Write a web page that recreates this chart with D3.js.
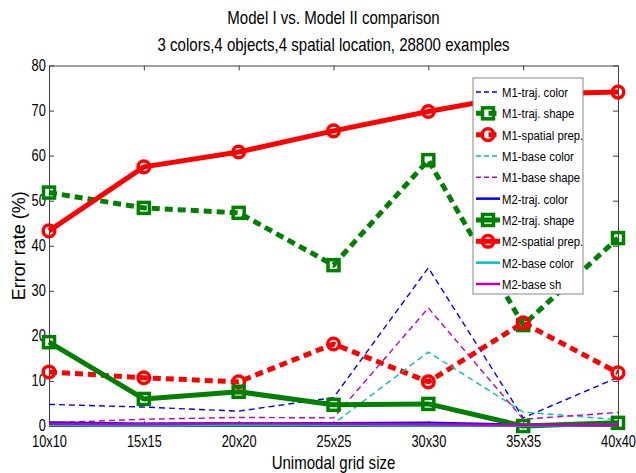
<!DOCTYPE html>
<html>
<head>
<meta charset="utf-8">
<script src="https://cdn.jsdelivr.net/npm/d3@7"></script>
<style>
  html, body { margin: 0; padding: 0; background: #fff; }
  svg { display: block; font-family: "Liberation Sans", Arial, Helvetica, sans-serif; }
</style>
</head>
<body>
<svg id="chart" width="636" height="473"></svg>
<script>
// Grid sizes along the x axis
const categories = ["10x10", "15x15", "20x20", "25x25", "30x30", "35x35", "40x40"];
const yTicks = [0, 10, 20, 30, 40, 50, 60, 70, 80];

// Error rates (%) per model and task
const m1TrajColor   = [4.8, 4.2, 3.3, 6.3, 35.1, 1.8, 10.8];
const m1TrajShape   = [51.8, 48.4, 47.3, 35.7, 59.0, 22.4, 41.7];
const m1SpatialPrep = [12.0, 10.7, 9.8, 18.2, 9.8, 22.9, 11.8];
const m1BaseColor   = [0.4, 0.6, 0.6, 0.5, 16.4, 3.1, 1.4];
const m1BaseShape   = [0.7, 1.5, 1.9, 1.8, 26.2, 1.5, 3.0];
const m2TrajColor   = [0.8, 0.5, 0.6, 0.6, 0.7, 0.3, 0.3];
const m2TrajShape   = [18.6, 6.0, 7.6, 4.7, 4.9, 0.0, 0.7];
const m2SpatialPrep = [43.3, 57.5, 60.8, 65.5, 69.8, 73.6, 74.1];
const m2BaseColor   = [0.2, 0.1, 0.2, 0.2, 0.1, 0.1, 0.2];
const m2BaseShape   = [0.5, 0.4, 0.6, 0.5, 0.4, 0.2, 0.3];

const seriesNames = ["M1-traj. color", "M1-traj. shape", "M1-spatial prep.", "M1-base color", "M1-base shape",
                     "M2-traj. color", "M2-traj. shape", "M2-spatial prep.", "M2-base color", "M2-base sh"];
const seriesValues = [m1TrajColor, m1TrajShape, m1SpatialPrep, m1BaseColor, m1BaseShape,
                      m2TrajColor, m2TrajShape, m2SpatialPrep, m2BaseColor, m2BaseShape];

// Line styles per series
const BLUE = "#0000ff", GREEN = "#008000", RED = "#ff0000", CYAN = "#00bfbf", MAGENTA = "#bf00bf";
const styles = [
  { color: BLUE,    width: 1.4, dash: "6,4",   marker: null },
  { color: GREEN,   width: 5,   dash: "8,5", marker: "square" },
  { color: RED,     width: 5,   dash: "8,5", marker: "circle" },
  { color: CYAN,    width: 1.4, dash: "6,4",   marker: null },
  { color: MAGENTA, width: 1.4, dash: "6,4",   marker: null },
  { color: BLUE,    width: 2.5, dash: null,    marker: null },
  { color: GREEN,   width: 5,   dash: null,    marker: "square" },
  { color: RED,     width: 5,   dash: null,    marker: "circle" },
  { color: CYAN,    width: 2.5, dash: null,    marker: null },
  { color: MAGENTA, width: 2.5, dash: null,    marker: null }
];

const svg = d3.select("#chart");
const plotLeft = 49, plotRight = 618, plotTop = 65.5, plotBottom = 426;

const x = d3.scalePoint().domain(categories).range([plotLeft, plotRight]);
const y = d3.scaleLinear().domain([0, 80]).range([plotBottom, plotTop]);

const AXIS = "#404040";

// Condensed text: a translated group holding a horizontally squeezed label
function label(parent, tx, ty, str, size, sx, anchor, rotate) {
  const g = parent.append("g").attr("transform", `translate(${tx},${ty})` + (rotate ? ` rotate(${rotate})` : ""));
  return g.append("text").attr("transform", `scale(${sx},1)`)
    .attr("text-anchor", anchor).attr("font-size", size).attr("fill", "#000").text(str);
}

// Box axes with inward ticks
const gx = svg.append("g").attr("transform", `translate(0,${plotBottom})`)
  .call(d3.axisBottom(x).tickSizeInner(-5).tickSizeOuter(0).tickPadding(10));
const gxTop = svg.append("g").attr("transform", `translate(0,${plotTop})`)
  .call(d3.axisTop(x).tickSizeInner(-5).tickSizeOuter(0).tickFormat(""));
const gy = svg.append("g").attr("transform", `translate(${plotLeft},0)`)
  .call(d3.axisLeft(y).tickValues(yTicks).tickSizeInner(-5).tickSizeOuter(0).tickPadding(4));
const gyRight = svg.append("g").attr("transform", `translate(${plotRight},0)`)
  .call(d3.axisRight(y).tickValues(yTicks).tickSizeInner(-5).tickSizeOuter(0).tickFormat(""));

[gx, gxTop, gy, gyRight].forEach(g => {
  g.attr("font-family", null);
  g.select(".domain").attr("stroke", AXIS).attr("stroke-width", 1);
  g.selectAll(".tick line").attr("stroke", AXIS);
  g.selectAll("text").attr("fill", "#000").attr("font-size", 16).attr("transform", "scale(0.8,1)");
});
gy.selectAll(".tick text").attr("dy", "0.3em");

// Series lines
const line = d3.line().x((d, i) => x(categories[i])).y(d => y(d));

function drawMarker(g, type, cx, cy, color) {
  if (type === "square") {
    g.append("rect").attr("x", cx - 5.5).attr("y", cy - 5.5).attr("width", 11).attr("height", 11)
      .attr("fill", "none").attr("stroke", color).attr("stroke-width", 3.5);
  } else if (type === "circle") {
    g.append("circle").attr("cx", cx).attr("cy", cy).attr("r", 5.8)
      .attr("fill", "none").attr("stroke", color).attr("stroke-width", 3.5);
  }
}

const plot = svg.append("g");
seriesValues.forEach((vals, k) => {
  const s = styles[k];
  const g = plot.append("g");
  g.append("path").datum(vals).attr("d", line)
    .attr("fill", "none").attr("stroke", s.color).attr("stroke-width", s.width)
    .attr("stroke-dasharray", s.dash).attr("stroke-linejoin", "round");
  if (s.marker) vals.forEach((v, i) => drawMarker(g, s.marker, x(categories[i]), y(v), s.color));
});

// Legend
const lg = svg.append("g");
lg.append("rect").attr("x", 473).attr("y", 78).attr("width", 110).attr("height", 216)
  .attr("fill", "#fff").attr("stroke", "#888").attr("stroke-width", 1);
seriesNames.forEach((name, k) => {
  const s = styles[k];
  const cy = 92 + k * 21.33;
  lg.append("line").attr("x1", 476).attr("x2", 500).attr("y1", cy).attr("y2", cy)
    .attr("stroke", s.color).attr("stroke-width", s.width)
    .attr("stroke-dasharray", s.dash ? (s.width > 3 ? "8,4.5" : "5,3") : null);
  if (s.marker) drawMarker(lg, s.marker, 488, cy, s.color);
  label(lg, 502, cy, name, 13.5, 0.84, "start").attr("dy", "0.36em");
});

// Titles and axis labels
const midX = (plotLeft + plotRight) / 2;
label(svg, midX, 24, "Model I vs. Model II comparison", 17.5, 0.86, "middle");
label(svg, midX, 51, "3 colors,4 objects,4 spatial location, 28800 examples", 17.5, 0.86, "middle");
label(svg, midX, 469, "Unimodal grid size", 17.5, 0.86, "middle");
label(svg, 25, (plotTop + plotBottom) / 2, "Error rate (%)", 18, 1, "middle", -90);
</script>
</body>
</html>
